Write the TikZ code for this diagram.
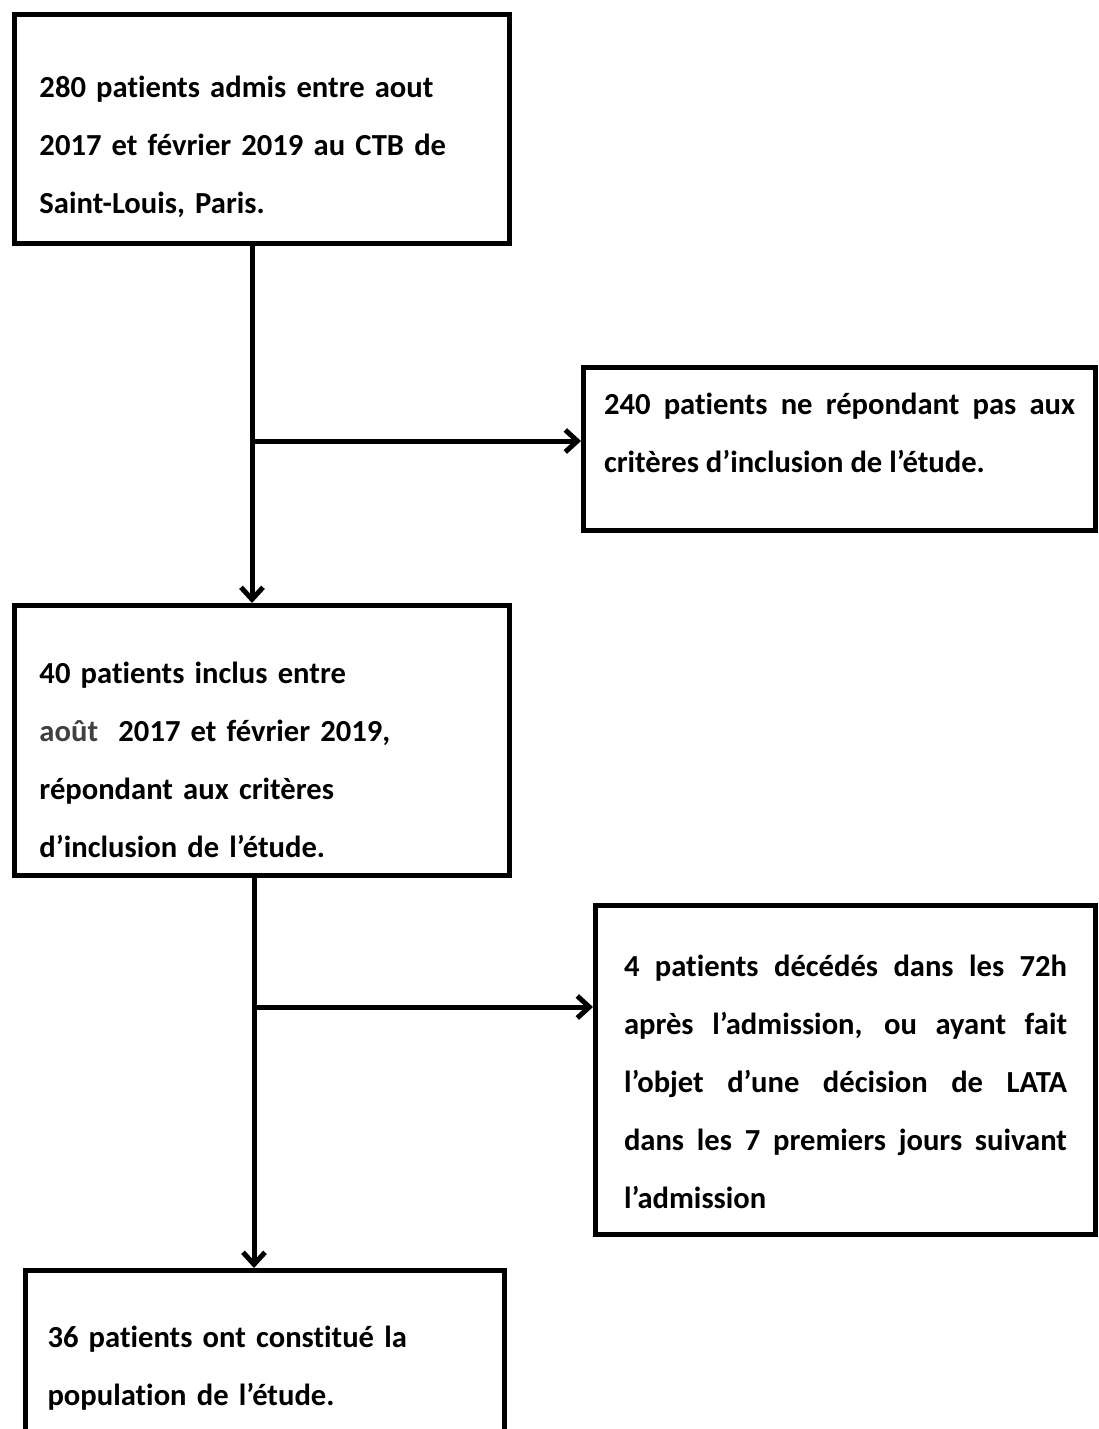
\documentclass[tikz,border=0pt]{standalone}
\usepackage{fontspec}
\setmainfont{Carlito}[Ligatures={NoCommon}]
\usetikzlibrary{arrows.meta}
\definecolor{aoutgray}{RGB}{64,64,64}
% extra room above the first line / below the last line of a box
\newcommand{\topgap}[1]{\rule{0pt}{\dimexpr\fontcharht\font`d+#1\relax}}
\newcommand{\bottomgap}[1]{\rule[-#1]{0pt}{0pt}}

\begin{document}
\begin{tikzpicture}[
    x=0.5pt, y=-0.5pt,
    box/.style={rectangle, draw, line width=2.5pt, anchor=north west, inner sep=0pt, font=\bfseries\fontsize{15.3}{29}\selectfont},
    flow/.style={line width=2.5pt, -{Straight Barb[length=6pt, width=11pt]}}
]
\useasboundingbox (0,0) rectangle (1098,1429);

\node[box, minimum width=247.5pt, minimum height=114.5pt, text width=222.5pt, align=left] (admis) at (12,12)
    {\topgap{18pt}280 patients admis entre aout\\2017 et février 2019 au CTB de\\Saint-Louis, Paris.};
\node[box, minimum width=256pt, minimum height=81.5pt, text width=235.5pt, align=justify] (rejet) at (581,365)
    {240 patients ne répondant pas aux\linebreak critères d’inclusion de l’étude.\bottomgap{16pt}};
\node[box, minimum width=247.5pt, minimum height=135pt, text width=222.5pt, align=left] (inclus) at (12,603)
    {\topgap{19pt}40 patients inclus entre\\{\color{aoutgray}août}\ \ 2017 et février 2019,\\répondant aux critères\\d’inclusion de l’étude.};
\node[box, minimum width=250pt, minimum height=164.5pt, text width=221.5pt, align=justify] (deces) at (593,903)
    {\topgap{12pt}4 patients décédés dans les 72h\linebreak après l’admission, ou ayant fait\linebreak l’objet d’une décision de LATA\linebreak dans les 7 premiers jours suivant\linebreak l’admission};
\node[box, minimum width=239.5pt, minimum height=98pt, text width=217.5pt, align=left] (population) at (23,1268)
    {36 patients ont constitué la\\population de l’étude.};

% branch points
\coordinate (split1) at (252,441);
\coordinate (split2) at (254,1007);

\draw[flow] (split1 |- admis.south) -- (split1 |- inclus.north);
\draw[flow] (split1) -- (split1 -| rejet.west);
\draw[flow] (split2 |- inclus.south) -- (split2 |- population.north);
\draw[flow] (split2) -- (split2 -| deces.west);

\end{tikzpicture}
\end{document}
